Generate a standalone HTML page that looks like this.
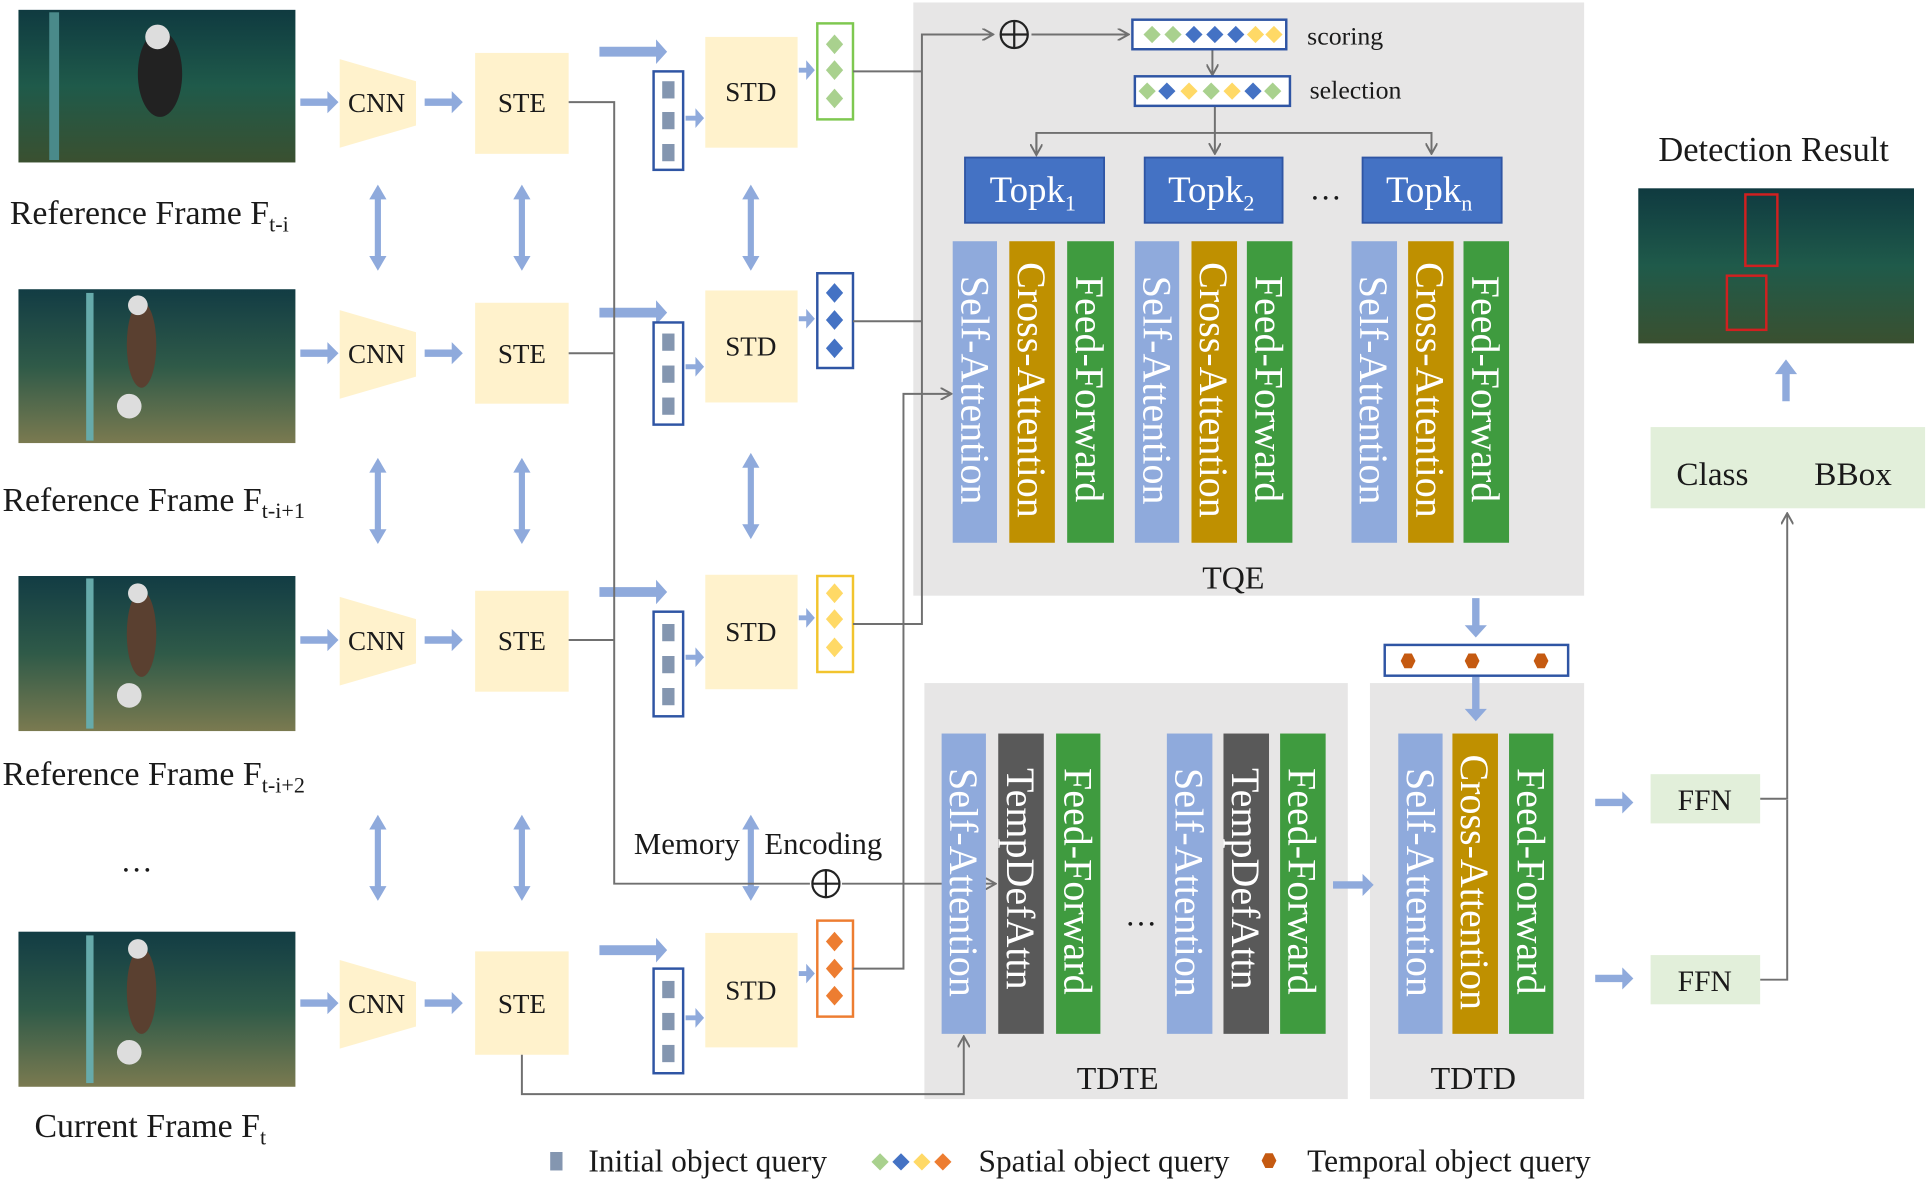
<!DOCTYPE html>
<html><head><meta charset="utf-8"><style>
html,body{margin:0;padding:0;background:#fff;}
svg{display:block;}
text{font-family:"Liberation Serif",serif;fill:#1a1a1a;}
.w{fill:#fff;}
</style></head><body>
<svg width="1930" height="1184" viewBox="0 0 1568 962" preserveAspectRatio="none" xmlns="http://www.w3.org/2000/svg">
<defs>
<marker id="ah" markerWidth="10" markerHeight="10" refX="8" refY="5" orient="auto" markerUnits="userSpaceOnUse"><path d="M0,0 L9,5 L0,10" fill="none" stroke="#707070" stroke-width="1.6"/></marker>
<linearGradient id="img" x1="0" y1="0" x2="0" y2="1"><stop offset="0" stop-color="#0f3a40"/><stop offset="0.5" stop-color="#1f5a4a"/><stop offset="1" stop-color="#3a5030"/></linearGradient>
<linearGradient id="img2" x1="0" y1="0" x2="0" y2="1"><stop offset="0" stop-color="#123c44"/><stop offset="0.5" stop-color="#2f5a48"/><stop offset="1" stop-color="#7a7a50"/></linearGradient>
</defs>
<rect width="1568" height="962" fill="#fff"/>

<rect x="742" y="2" width="545" height="482" fill="#e7e6e6"/>
<rect x="751" y="555" width="344" height="338" fill="#e7e6e6"/>
<rect x="1113" y="555" width="174" height="338" fill="#e7e6e6"/>

<g>
<rect x="15" y="8" width="225" height="124" fill="url(#img)"/>
<rect x="40" y="10" width="8" height="120" fill="#4a8a8a"/>
<ellipse cx="130" cy="60" rx="18" ry="35" fill="#222"/><circle cx="128" cy="30" r="10" fill="#ddd"/>
<rect x="15" y="235" width="225" height="125" fill="url(#img2)"/>
<rect x="70" y="238" width="6" height="120" fill="#6aa"/><ellipse cx="115" cy="280" rx="12" ry="35" fill="#5a4030"/><circle cx="112" cy="248" r="8" fill="#ddd"/><circle cx="105" cy="330" r="10" fill="#ddd"/>
<rect x="15" y="468" width="225" height="126" fill="url(#img2)"/>
<rect x="70" y="470" width="6" height="122" fill="#6aa"/><ellipse cx="115" cy="515" rx="12" ry="35" fill="#5a4030"/><circle cx="112" cy="482" r="8" fill="#ddd"/><circle cx="105" cy="565" r="10" fill="#ddd"/>
<rect x="15" y="757" width="225" height="126" fill="url(#img2)"/>
<rect x="70" y="760" width="6" height="120" fill="#6aa"/><ellipse cx="115" cy="805" rx="12" ry="35" fill="#5a4030"/><circle cx="112" cy="771" r="8" fill="#ddd"/><circle cx="105" cy="855" r="10" fill="#ddd"/>
<rect x="1331" y="153" width="224" height="126" fill="url(#img)"/>
<rect x="1418" y="158" width="26" height="58" fill="none" stroke="#d02020" stroke-width="2"/>
<rect x="1403" y="224" width="32" height="44" fill="none" stroke="#d02020" stroke-width="2"/>
</g>

<text x="8" y="182" font-size="27.5">Reference Frame  F<tspan font-size="18" dy="6">t-i</tspan></text>
<text x="2" y="415" font-size="27.5">Reference Frame F<tspan font-size="18" dy="6">t-i+1</tspan></text>
<text x="2" y="638" font-size="27.5">Reference Frame F<tspan font-size="18" dy="6">t-i+2</tspan></text>
<text x="98" y="708" font-size="26">…</text>
<text x="28" y="924" font-size="27.5">Current Frame F<tspan font-size="18" dy="6">t</tspan></text>

<g font-size="22">
<g fill="#fff2cc">
<path d="M276,48 L338,66 L338,102 L276,120 Z"/>
<path d="M276,252 L338,270 L338,306 L276,324 Z"/>
<path d="M276,485 L338,503 L338,539 L276,557 Z"/>
<path d="M276,780 L338,798 L338,834 L276,852 Z"/>
<rect x="386" y="43" width="76" height="82"/>
<rect x="386" y="246" width="76" height="82"/>
<rect x="386" y="480" width="76" height="82"/>
<rect x="386" y="773" width="76" height="84"/>
<rect x="573" y="30" width="75" height="90"/>
<rect x="573" y="236" width="75" height="91"/>
<rect x="573" y="467" width="75" height="93"/>
<rect x="573" y="758" width="75" height="93"/>
</g>
<text x="306" y="91" text-anchor="middle">CNN</text>
<text x="306" y="295" text-anchor="middle">CNN</text>
<text x="306" y="528" text-anchor="middle">CNN</text>
<text x="306" y="823" text-anchor="middle">CNN</text>
<text x="424" y="91" text-anchor="middle">STE</text>
<text x="424" y="295" text-anchor="middle">STE</text>
<text x="424" y="528" text-anchor="middle">STE</text>
<text x="424" y="823" text-anchor="middle">STE</text>
<text x="610" y="82" text-anchor="middle">STD</text>
<text x="610" y="289" text-anchor="middle">STD</text>
<text x="610" y="521" text-anchor="middle">STD</text>
<text x="610" y="812" text-anchor="middle">STD</text>
</g>

<g fill="#8faadc">
<path d="M244,80 h22 v-6 l9,9 l-9,9 v-6 h-22z"/>
<path d="M244,284 h22 v-6 l9,9 l-9,9 v-6 h-22z"/>
<path d="M244,517 h22 v-6 l9,9 l-9,9 v-6 h-22z"/>
<path d="M244,812 h22 v-6 l9,9 l-9,9 v-6 h-22z"/>
<path d="M345,80 h22 v-6 l9,9 l-9,9 v-6 h-22z"/>
<path d="M345,284 h22 v-6 l9,9 l-9,9 v-6 h-22z"/>
<path d="M345,517 h22 v-6 l9,9 l-9,9 v-6 h-22z"/>
<path d="M345,812 h22 v-6 l9,9 l-9,9 v-6 h-22z"/>
<path d="M487,38 h46 v-6 l9,10 l-9,10 v-6 h-46z"/>
<path d="M487,250 h46 v-6 l9,10 l-9,10 v-6 h-46z"/>
<path d="M487,477 h46 v-6 l9,10 l-9,10 v-6 h-46z"/>
<path d="M487,768 h46 v-6 l9,10 l-9,10 v-6 h-46z"/>
<path d="M557,94 h8 v-6 l7,8 l-7,8 v-6 h-8z"/>
<path d="M557,296 h8 v-6 l7,8 l-7,8 v-6 h-8z"/>
<path d="M557,532 h8 v-6 l7,8 l-7,8 v-6 h-8z"/>
<path d="M557,825 h8 v-6 l7,8 l-7,8 v-6 h-8z"/>
<path d="M649,55 h6 v-6 l7,8 l-7,8 v-6 h-6z"/>
<path d="M649,257 h6 v-6 l7,8 l-7,8 v-6 h-6z"/>
<path d="M649,500 h6 v-6 l7,8 l-7,8 v-6 h-6z"/>
<path d="M649,789 h6 v-6 l7,8 l-7,8 v-6 h-6z"/>
<path d="M1296,649 h22 v-6 l9,9 l-9,9 v-6 h-22z"/>
<path d="M1296,792 h22 v-6 l9,9 l-9,9 v-6 h-22z"/>
<path d="M1083,716 h24 v-6 l9,9 l-9,9 v-6 h-24z"/>
<path d="M1196,486 h6 v22 h6 l-9,10 l-9,-10 h6z"/>
<path d="M1196,550 h6 v26 h6 l-9,10 l-9,-10 h6z"/>
<path d="M1448,326 h6 v-22 h6 l-9,-12 l-9,12 h6z"/>
</g>
<g stroke="#8faadc" stroke-width="5" fill="#8faadc">
<line x1="307" y1="160" x2="307" y2="210"/><line x1="424" y1="160" x2="424" y2="210"/><line x1="610" y1="160" x2="610" y2="210"/>
<line x1="307" y1="382" x2="307" y2="432"/><line x1="424" y1="382" x2="424" y2="432"/><line x1="610" y1="378" x2="610" y2="428"/>
<line x1="307" y1="672" x2="307" y2="722"/><line x1="424" y1="672" x2="424" y2="722"/><line x1="610" y1="672" x2="610" y2="722"/>
</g>
<g fill="#8faadc">
<path d="M300,162 l7,-12 l7,12z M300,208 l7,12 l7,-12z"/>
<path d="M417,162 l7,-12 l7,12z M417,208 l7,12 l7,-12z"/>
<path d="M603,162 l7,-12 l7,12z M603,208 l7,12 l7,-12z"/>
<path d="M300,384 l7,-12 l7,12z M300,430 l7,12 l7,-12z"/>
<path d="M417,384 l7,-12 l7,12z M417,430 l7,12 l7,-12z"/>
<path d="M603,380 l7,-12 l7,12z M603,426 l7,12 l7,-12z"/>
<path d="M300,674 l7,-12 l7,12z M300,720 l7,12 l7,-12z"/>
<path d="M417,674 l7,-12 l7,12z M417,720 l7,12 l7,-12z"/>
<path d="M603,674 l7,-12 l7,12z M603,720 l7,12 l7,-12z"/>
</g>

<g fill="#fff" stroke="#2f55a4" stroke-width="2">
<rect x="531" y="58" width="24" height="80"/>
<rect x="531" y="262" width="24" height="83"/>
<rect x="531" y="497" width="24" height="85"/>
<rect x="531" y="787" width="24" height="85"/>
</g>
<g fill="#8496b0">
<rect x="538" y="66" width="10" height="14"/><rect x="538" y="91" width="10" height="14"/><rect x="538" y="117" width="10" height="14"/>
<rect x="538" y="271" width="10" height="14"/><rect x="538" y="297" width="10" height="14"/><rect x="538" y="323" width="10" height="14"/>
<rect x="538" y="507" width="10" height="14"/><rect x="538" y="533" width="10" height="14"/><rect x="538" y="559" width="10" height="14"/>
<rect x="538" y="797" width="10" height="14"/><rect x="538" y="823" width="10" height="14"/><rect x="538" y="849" width="10" height="14"/>
</g>

<rect x="664" y="19" width="29" height="78" fill="#fff" stroke="#7ec850" stroke-width="2"/>
<rect x="664" y="222" width="29" height="77" fill="#fff" stroke="#2f55a4" stroke-width="2"/>
<rect x="664" y="468" width="29" height="78" fill="#fff" stroke="#f2c42e" stroke-width="2"/>
<rect x="664" y="748" width="29" height="78" fill="#fff" stroke="#ed7d31" stroke-width="2"/>
<g>
<path d="M678,28 l7,8 l-7,8 l-7,-8z M678,49 l7,8 l-7,8 l-7,-8z M678,72 l7,8 l-7,8 l-7,-8z" fill="#a9d18e"/>
<path d="M678,230 l7,8 l-7,8 l-7,-8z M678,252 l7,8 l-7,8 l-7,-8z M678,275 l7,8 l-7,8 l-7,-8z" fill="#4472c4"/>
<path d="M678,474 l7,8 l-7,8 l-7,-8z M678,495 l7,8 l-7,8 l-7,-8z M678,518 l7,8 l-7,8 l-7,-8z" fill="#ffd966"/>
<path d="M678,757 l7,8 l-7,8 l-7,-8z M678,779 l7,8 l-7,8 l-7,-8z M678,801 l7,8 l-7,8 l-7,-8z" fill="#ed7d31"/>
</g>

<g stroke="#707070" stroke-width="1.6" fill="none">
<polyline points="462,83 499,83 499,718 658,718"/>
<line x1="462" y1="287" x2="499" y2="287"/>
<line x1="462" y1="520" x2="499" y2="520"/>
<polyline points="693,58 749,58"/>
<polyline points="693,261 749,261"/>
<polyline points="693,507 749,507 749,28 806,28" marker-end="url(#ah)"/>
<polyline points="693,787 734,787 734,320 772,320" marker-end="url(#ah)"/>
<line x1="684" y1="718" x2="808" y2="718" marker-end="url(#ah)"/>
<polyline points="424,857 424,889 783,889 783,843" marker-end="url(#ah)"/>
<line x1="838" y1="28" x2="916" y2="28" marker-end="url(#ah)"/>
<line x1="985" y1="40" x2="985" y2="60" marker-end="url(#ah)"/>
<line x1="987" y1="86" x2="987" y2="124" marker-end="url(#ah)"/>
<polyline points="842,124 842,108 1163,108 1163,124" marker-end="url(#ah)"/>
<line x1="842" y1="108" x2="842" y2="125" marker-end="url(#ah)"/>
<polyline points="1430,649 1452,649 1452,418" marker-end="url(#ah)"/>
<polyline points="1430,796 1452,796 1452,650"/>
</g>
<circle cx="824" cy="28" r="11" fill="none" stroke="#222" stroke-width="1.8"/>
<path d="M813,28 h22 M824,17 v22" stroke="#222" stroke-width="1.8"/>
<circle cx="671" cy="718" r="11" fill="none" stroke="#222" stroke-width="1.8"/>
<path d="M660,718 h22 M671,707 v22" stroke="#222" stroke-width="1.8"/>
<text x="515" y="694" font-size="25">Memory</text>
<text x="621" y="694" font-size="25">Encoding</text>

<rect x="920" y="16" width="125" height="24" fill="#fff" stroke="#2f55a4" stroke-width="2"/>
<rect x="922" y="62" width="126" height="24" fill="#fff" stroke="#2f55a4" stroke-width="2"/>
<g>
<path d="M936,21 l7,7 l-7,7 l-7,-7z M953,21 l7,7 l-7,7 l-7,-7z" fill="#a9d18e"/>
<path d="M970,21 l7,7 l-7,7 l-7,-7z M987,21 l7,7 l-7,7 l-7,-7z M1004,21 l7,7 l-7,7 l-7,-7z" fill="#4472c4"/>
<path d="M1020,21 l7,7 l-7,7 l-7,-7z M1035,21 l7,7 l-7,7 l-7,-7z" fill="#ffd966"/>
<path d="M932,67 l7,7 l-7,7 l-7,-7z M984,67 l7,7 l-7,7 l-7,-7z M1034,67 l7,7 l-7,7 l-7,-7z" fill="#a9d18e"/>
<path d="M948,67 l7,7 l-7,7 l-7,-7z M1018,67 l7,7 l-7,7 l-7,-7z" fill="#4472c4"/>
<path d="M966,67 l7,7 l-7,7 l-7,-7z M1001,67 l7,7 l-7,7 l-7,-7z" fill="#ffd966"/>
</g>
<text x="1062" y="36" font-size="21">scoring</text>
<text x="1064" y="80" font-size="21">selection</text>

<g fill="#4472c4" stroke="#2f55a4" stroke-width="1.5">
<rect x="784" y="128" width="113" height="53"/>
<rect x="930" y="128" width="112" height="53"/>
<rect x="1107" y="128" width="113" height="53"/>
</g>
<g font-size="30">
<text x="804" y="164" class="w">Topk<tspan font-size="18" dy="7">1</tspan></text>
<text x="949" y="164" class="w">Topk<tspan font-size="18" dy="7">2</tspan></text>
<text x="1126" y="164" class="w">Topk<tspan font-size="18" dy="7">n</tspan></text>
</g>
<text x="1064" y="162" font-size="26">…</text>

<g>
<rect x="774" y="196" width="36" height="245" fill="#8faadc"/>
<rect x="820" y="196" width="37" height="245" fill="#bf9000"/>
<rect x="867" y="196" width="38" height="245" fill="#3f9b3f"/>
<rect x="922" y="196" width="36" height="245" fill="#8faadc"/>
<rect x="968" y="196" width="37" height="245" fill="#bf9000"/>
<rect x="1013" y="196" width="37" height="245" fill="#3f9b3f"/>
<rect x="1098" y="196" width="37" height="245" fill="#8faadc"/>
<rect x="1144" y="196" width="37" height="245" fill="#bf9000"/>
<rect x="1189" y="196" width="37" height="245" fill="#3f9b3f"/>
</g>
<g font-size="32.5">
<text class="w" transform="translate(781,224) rotate(90)">Self-Attention</text>
<text class="w" transform="translate(827,213) rotate(90)">Cross-Attention</text>
<text class="w" transform="translate(874,224) rotate(90)">Feed-Forward</text>
<text class="w" transform="translate(929,224) rotate(90)">Self-Attention</text>
<text class="w" transform="translate(975,213) rotate(90)">Cross-Attention</text>
<text class="w" transform="translate(1020,224) rotate(90)">Feed-Forward</text>
<text class="w" transform="translate(1105,224) rotate(90)">Self-Attention</text>
<text class="w" transform="translate(1151,213) rotate(90)">Cross-Attention</text>
<text class="w" transform="translate(1196,224) rotate(90)">Feed-Forward</text>
</g>
<text x="1002" y="478" font-size="26" text-anchor="middle">TQE</text>

<rect x="1125" y="524" width="149" height="25" fill="#fff" stroke="#2f55a4" stroke-width="2"/>
<g fill="#c55a11">
<path d="M1138,537 l3,-6 h6 l3,6 l-3,6 h-6z"/>
<path d="M1190,537 l3,-6 h6 l3,6 l-3,6 h-6z"/>
<path d="M1246,537 l3,-6 h6 l3,6 l-3,6 h-6z"/>
</g>

<g>
<rect x="765" y="596" width="36" height="244" fill="#8faadc"/>
<rect x="811" y="596" width="37" height="244" fill="#595959"/>
<rect x="858" y="596" width="36" height="244" fill="#3f9b3f"/>
<rect x="948" y="596" width="37" height="244" fill="#8faadc"/>
<rect x="994" y="596" width="37" height="244" fill="#595959"/>
<rect x="1040" y="596" width="37" height="244" fill="#3f9b3f"/>
<rect x="1136" y="596" width="36" height="244" fill="#8faadc"/>
<rect x="1180" y="596" width="37" height="244" fill="#bf9000"/>
<rect x="1226" y="596" width="36" height="244" fill="#3f9b3f"/>
</g>
<g font-size="32.5">
<text class="w" transform="translate(772,624) rotate(90)">Self-Attention</text>
<text class="w" transform="translate(818,624) rotate(90)">TempDefAttn</text>
<text class="w" transform="translate(865,624) rotate(90)">Feed-Forward</text>
<text class="w" transform="translate(955,624) rotate(90)">Self-Attention</text>
<text class="w" transform="translate(1001,624) rotate(90)">TempDefAttn</text>
<text class="w" transform="translate(1047,624) rotate(90)">Feed-Forward</text>
<text class="w" transform="translate(1143,624) rotate(90)">Self-Attention</text>
<text class="w" transform="translate(1187,613) rotate(90)">Cross-Attention</text>
<text class="w" transform="translate(1233,624) rotate(90)">Feed-Forward</text>
</g>
<text x="914" y="752" font-size="26">…</text>
<text x="908" y="885" font-size="26" text-anchor="middle">TDTE</text>
<text x="1197" y="885" font-size="26" text-anchor="middle">TDTD</text>

<rect x="1341" y="629" width="89" height="40" fill="#e2efda"/>
<rect x="1341" y="776" width="89" height="40" fill="#e2efda"/>
<text x="1385" y="658" font-size="24" text-anchor="middle">FFN</text>
<text x="1385" y="805" font-size="24" text-anchor="middle">FFN</text>
<rect x="1341" y="347" width="223" height="66" fill="#e2efda"/>
<text x="1362" y="394" font-size="27">Class</text>
<text x="1474" y="394" font-size="27">BBox</text>
<text x="1441" y="131" font-size="28" text-anchor="middle">Detection Result</text>

<rect x="447" y="936" width="10" height="15" fill="#8496b0"/>
<text x="478" y="952" font-size="25.5">Initial object query</text>
<path d="M715,937 l7,7 l-7,7 l-7,-7z" fill="#a9d18e"/>
<path d="M732,937 l7,7 l-7,7 l-7,-7z" fill="#4472c4"/>
<path d="M749,937 l7,7 l-7,7 l-7,-7z" fill="#ffd966"/>
<path d="M766,937 l7,7 l-7,7 l-7,-7z" fill="#ed7d31"/>
<text x="795" y="952" font-size="25.5">Spatial object query</text>
<path d="M1025,943 l3,-6 h6 l3,6 l-3,6 h-6z" fill="#c55a11"/>
<text x="1062" y="952" font-size="25.5">Temporal object query</text>
</svg>
</body></html>
